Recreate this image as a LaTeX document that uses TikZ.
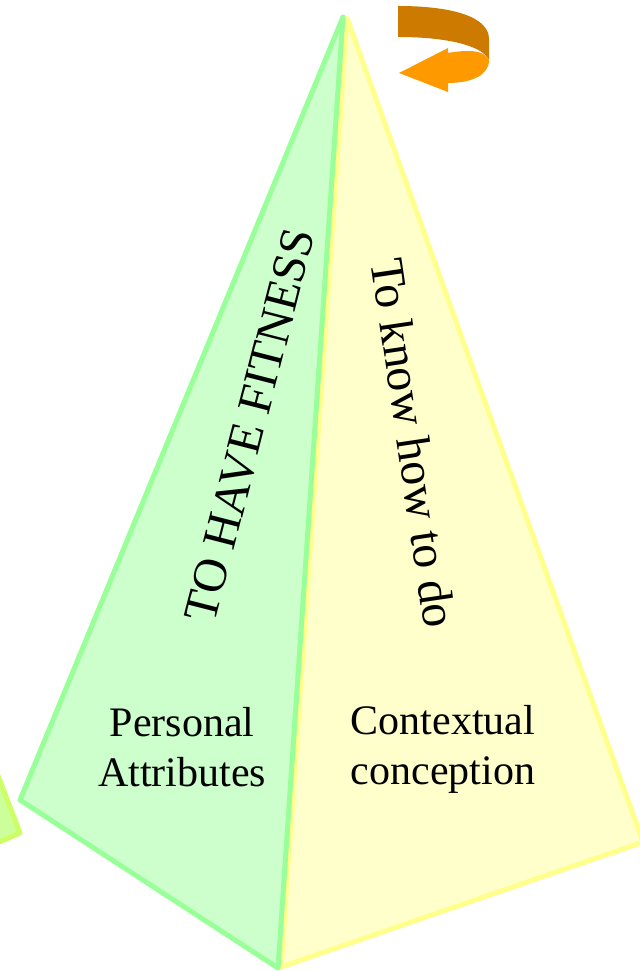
\documentclass[tikz,border=0pt]{standalone}
\usepackage{fontspec}
\setmainfont{Liberation Serif}
\usepackage{tikz}
\definecolor{greenfill}{HTML}{CCFFCC}
\definecolor{greenline}{HTML}{99FF99}
\definecolor{yellowfill}{HTML}{FFFFCC}
\definecolor{yellowline}{HTML}{FFFF8C}
\definecolor{limefill}{HTML}{CCFF99}
\definecolor{limeline}{HTML}{CCFF66}
\definecolor{orangedark}{HTML}{CC7A00}
\definecolor{orangelight}{HTML}{FF9900}

\begin{document}
\begin{tikzpicture}[x=1bp,y=1bp,line join=round,
  face/.style={line width=5bp},
  label/.style={inner sep=0pt,align=center,font=\fontsize{42bp}{50bp}\selectfont},
  sidelabel/.style={inner sep=0pt,font=\fontsize{48bp}{52bp}\selectfont}]
\useasboundingbox (0,0) rectangle (640,971);
\clip (0,0) rectangle (640,971);
%% faces
\filldraw [face,draw=limeline,fill=limefill] (-10,216) -- (20,138) -- (-10,125) -- cycle;
\filldraw [face,draw=yellowline,fill=yellowfill] (347,953) -- (643,129) -- (281,4) -- cycle;
\filldraw [face,draw=greenline,fill=greenfill] (343,954) -- (20,171) -- (278,3) -- cycle;
%% turning arrow
\fill [orangedark] (398,965) .. controls (450,965) and (489,955) .. (489,932)
  -- (489,911) .. controls (482,926) and (445,934) .. (398,934) -- cycle;
\fill [orangelight] (448,918) .. controls (465,921) and (484,922) .. (489,911)
  .. controls (489,896) and (472,888) .. (448,888) -- (448,879) -- (399,898)
  -- (448,923) -- cycle;
%% texts
\node (fitness) at (250,546) [sidelabel,rotate=75.6] {TO HAVE FITNESS};
\node (knowhow) at (414,528) [sidelabel,rotate=-81.6] {To know how to do};
\node (personal) at (182,224) [label] {Personal\\Attributes};
\node (context) at (443,222) [label] {Contextual\\conception};
%
\end{tikzpicture}
\end{document}
